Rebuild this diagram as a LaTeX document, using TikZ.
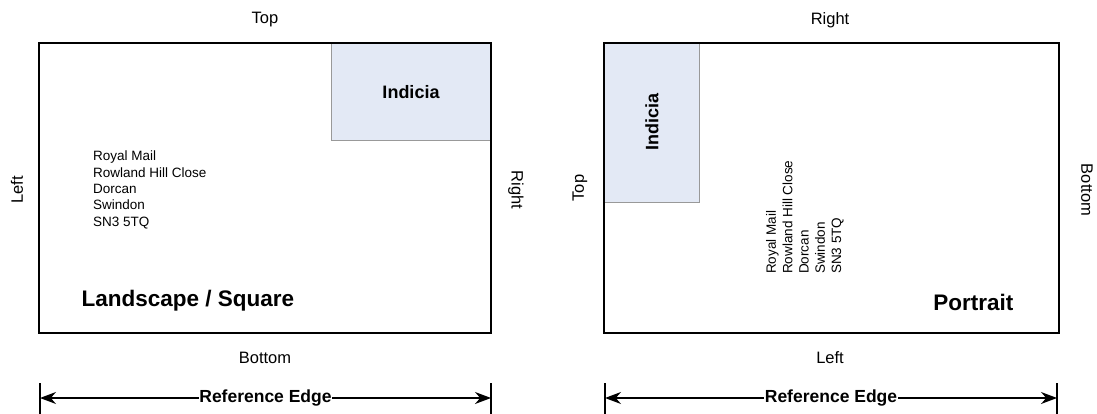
\documentclass[tikz,border=0pt]{standalone}
\usepackage{fontspec}
\setmainfont{Liberation Sans}
\usetikzlibrary{arrows.meta}

\tikzset{%
        every envelope/.style={
            draw=black,
            line width=2.8pt
        },
        indicia box/.style={
            draw=black!40,
            fill=indiciablue,
            line width=0.6pt
        },
        indicia label/.style={
            font=\fontsize{18}{21}\selectfont\bfseries
        },
        edge label/.style={
            font=\fontsize{16.5}{19}\selectfont
        },
        address/.style={
            align=left,
            inner sep=0pt,
            font=\fontsize{13.5}{16.3}\selectfont
        },
        format label/.style={
            font=\fontsize{22.5}{26}\selectfont\bfseries
        },
        ref tick/.style={
            line width=1.4pt
        },
    }
\definecolor{indiciablue}{HTML}{E3E9F5}

\begin{document}
\begin{tikzpicture}[x=1pt, y=-1pt, >={Stealth[length=16pt,width=12pt]}]

        \useasboundingbox (0,0) rectangle (1097,414);

        % landscape / square envelope
        \draw [indicia box] (331,43) rectangle (491,140);
        \draw [every envelope] (39,43) rectangle (491,333);
        \node [indicia label] (ind-l) at (411,92) {Indicia};
        \node [address, anchor=north west] (addr-l) at (93,151)
            {Royal Mail\\Rowland Hill Close\\Dorcan\\Swindon\\SN3 5TQ};
        \node [format label, anchor=west] (fmt-l) at (78,301) {Landscape / Square};

        % portrait envelope
        \draw [indicia box] (604,43) rectangle (699,202);
        \draw [every envelope] (604,43) rectangle (1059,333);
        \node [indicia label, rotate=90] (ind-p) at (652,122) {Indicia};
        \node [address, rotate=90, anchor=north west] (addr-p) at (766,274)
            {Royal Mail\\Rowland Hill Close\\Dorcan\\Swindon\\SN3 5TQ};
        \node [format label, anchor=east] (fmt-p) at (1017,302) {Portrait};

        % edge names
        \foreach \l/\x/\y/\r in {Top/265/20/0, Bottom/265/358/0, Left/17/190/90, Right/516/190/-90,
                                 Right/830/20/0, Left/830/358/0, Top/580/188/90, Bottom/1087/190/-90}
        \node [edge label, rotate=\r] at (\x,\y) {\l};

        % reference edges
        \foreach \a/\b [count=\i] in {40/491, 605/1057}
        {
            \coordinate (tick-\i-a) at (\a,383);
            \coordinate (tick-\i-b) at (\b,383);
            \draw [ref tick] (tick-\i-a) -- ++(0,31);
            \draw [ref tick] (tick-\i-b) -- ++(0,31);
            \draw [<->, line width=1.4pt] ([yshift=-15pt]tick-\i-a) -- ([yshift=-15pt]tick-\i-b)
                node [midway, fill=white, inner sep=0.5pt, font=\fontsize{17.5}{20}\selectfont\bfseries] (ref-\i) {Reference Edge};
        }
    \end{tikzpicture}
\end{document}
